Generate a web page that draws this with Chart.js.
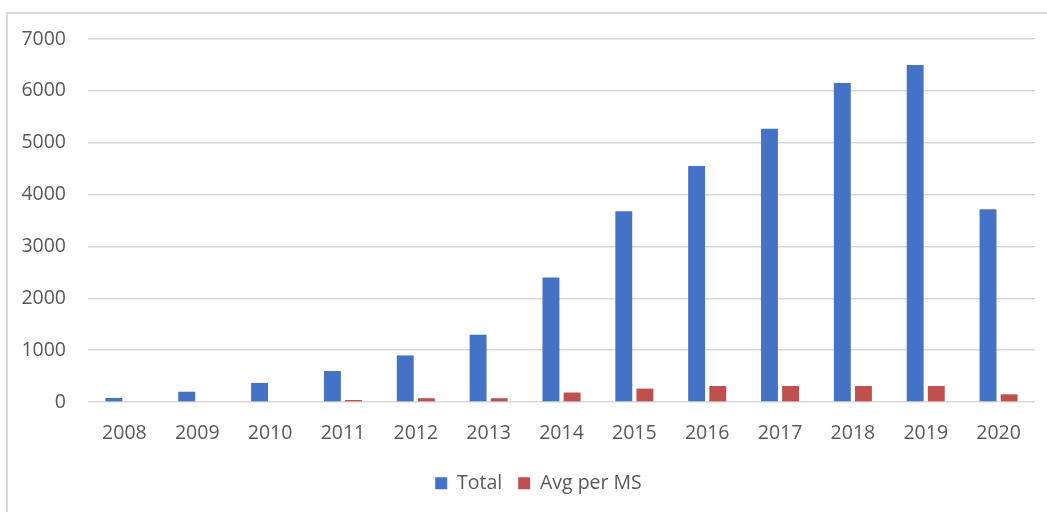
<!DOCTYPE html>
<html>
<head>
<meta charset="utf-8">
<script src="https://cdn.jsdelivr.net/npm/chart.js@4/dist/chart.umd.min.js"></script>
<style>
  html, body { margin: 0; padding: 0; background: #fff; }
  #box {
    position: absolute; left: 6px; top: 12px;
    width: 1041px; height: 500px;
    border-left: 2px solid #d9d9d9; border-top: 2px solid #d9d9d9;
  }
  #box canvas { display: block; }
</style>
</head>
<body>
<div id="box"><canvas id="chart" width="1039" height="498"></canvas></div>
<script>
// Jahre und Werte
const years = ['2008', '2009', '2010', '2011', '2012', '2013', '2014', '2015', '2016', '2017', '2018', '2019', '2020'];
const total = [80, 200, 370, 600, 900, 1300, 2400, 3680, 4550, 5270, 6150, 6500, 3720];
const avgPerMS = [0, 0, 0, 40, 75, 75, 185, 260, 310, 310, 310, 310, 150];
const yTicks = [0, 1000, 2000, 3000, 4000, 5000, 6000, 7000];

const textColor = '#595959';
const gridColor = '#d9d9d9';
const font = { family: '"Open Sans", sans-serif', size: 19.5 };

// Legende etwas nach rechts schieben (wie in der Vorlage)
const legendShift = {
    id: 'legendShift',
    afterLayout(chart) {
        chart.legend.left += 17;
        chart.legend.right += 17;
    }
};

const ctx = document.getElementById('chart').getContext('2d');

new Chart(ctx, {
    type: 'bar',
    data: {
        labels: years,
        datasets: [{
            label: 'Total',
            data: total,
            backgroundColor: '#4472c4',
            categoryPercentage: 0.58,
            barPercentage: 0.8
        }, {
            label: 'Avg per MS',
            data: avgPerMS,
            backgroundColor: '#c0504d',
            categoryPercentage: 0.58,
            barPercentage: 0.8
        }]
    },
    options: {
        responsive: false,
        animation: false,
        layout: { padding: { left: 0, right: 12, top: 25, bottom: 9 } },
        plugins: {
            tooltip: { enabled: false },
            legend: {
                position: 'bottom',
                labels: {
                    color: textColor,
                    font: font,
                    boxWidth: 12,
                    boxHeight: 12,
                    padding: 16
                }
            }
        },
        scales: {
            x: {
                grid: { display: false },
                border: { display: false },
                ticks: { color: textColor, font: font, padding: 12 }
            },
            y: {
                min: 0,
                max: 7000,
                afterBuildTicks: (scale) => { scale.ticks = yTicks.map(v => ({ value: v })); },
                afterFit: (scale) => { scale.width = 80; },
                // unsichtbare Tick-Striche als Abstand, damit oben kein Extra-Rand entsteht
                grid: { color: gridColor, lineWidth: 1.5, drawTicks: true, tickLength: 22, tickColor: 'rgba(0,0,0,0)' },
                border: { display: false },
                ticks: { color: textColor, font: font, padding: 0, callback: (v) => String(v) }
            }
        }
    },
    plugins: [legendShift]
});
</script>
</body>
</html>
